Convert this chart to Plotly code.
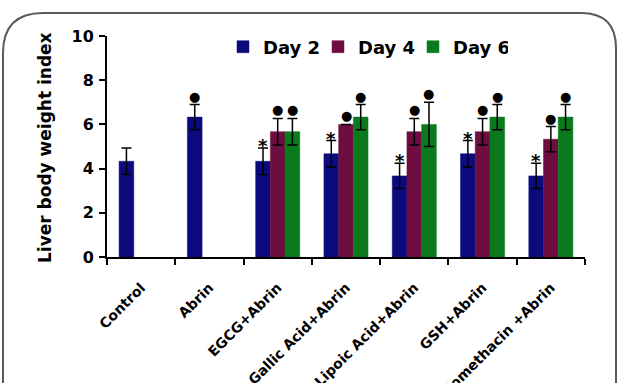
import plotly.graph_objects as go

categories = ["Control", "Abrin", "EGCG+Abrin", "Gallic Acid+Abrin",
              "Lipoic Acid+Abrin", "GSH+Abrin", "Indomethacin +Abrin"]
series_names = ["Day 2", "Day 4", "Day 6"]
day2 = [4.33, 6.33, 4.33, 4.67, 3.67, 4.67, 3.67]
day2_err = [0.6, 0.57, 0.6, 0.6, 0.57, 0.6, 0.57]
day4 = [None, None, 5.67, 6.0, 5.67, 5.67, 5.33]
day4_err = [None, None, 0.6, None, 0.6, 0.6, 0.57]
day6 = [None, None, 5.67, 6.33, 6.0, 6.33, 6.33]
day6_err = [None, None, 0.6, 0.57, 1.0, 0.57, 0.57]
day2_sig = ["", "●", "*", "*", "*", "*", "*"]
day4_sig = ["", "", "●", "●", "●", "●", "●"]
day6_sig = ["", "", "●", "●", "●", "●", "●"]
y_ticks = [0, 2, 4, 6, 8, 10]

colors = ["#0b0b7e", "#6e0d3f", "#0a7a1c"]
FONT = "DejaVu Sans"

fig = go.Figure()
all_vals = [day2, day4, day6]
all_errs = [day2_err, day4_err, day6_err]
all_sigs = [day2_sig, day4_sig, day6_sig]
for name, vals, errs, col in zip(series_names, all_vals, all_errs, colors):
    fig.add_trace(go.Bar(
        name=f"<b>{name}</b>", x=categories, y=vals,
        marker=dict(color=col, line=dict(color=col, width=0.5)),
        error_y=dict(type="data", array=errs, visible=True,
                     color="black", thickness=1.5, width=5),
    ))

L, R, T, B = 107, 32, 36, 126
W, H = 617, 383
pw, ph = W - L - R, H - T - B
cat_w = pw / len(categories)
bar_w = 14.7
shifts = [-bar_w, 0, bar_w]

annotations = []
for vals, errs, sigs, sh in zip(all_vals, all_errs, all_sigs, shifts):
    for c, v, e, s in zip(categories, vals, errs, sigs):
        if not s or v is None:
            continue
        top = v + (e or 0)
        if s == "*":
            annotations.append(dict(x=c, y=top, xref="x", yref="y", text="<b>*</b>",
                                    showarrow=False, xshift=sh, yanchor="bottom",
                                    yshift=-10, font=dict(family=FONT, size=18, color="black")))
        else:
            annotations.append(dict(x=c, y=top, xref="x", yref="y", text="●",
                                    showarrow=False, xshift=sh, yanchor="bottom",
                                    yshift=-1, font=dict(family=FONT, size=13, color="black")))

def px(x):
    return (x - L) / pw

def py(y):
    return 1 - (y - T) / ph

annotations.append(dict(x=px(45), y=py(148), xref="paper", yref="paper",
                        xanchor="center", yanchor="middle",
                        text="<b>Liver body weight index</b>", textangle=-90, showarrow=False,
                        font=dict(family=FONT, size=17, color="black")))

frame = (f"M {px(3)},{py(400)} L {px(3)},{py(53)} Q {px(3)},{py(13)} {px(43)},{py(13)} "
         f"L {px(581)},{py(13)} Q {px(616)},{py(13)} {px(616)},{py(48)} L {px(616)},{py(400)}")

fig.update_layout(
    width=W, height=H,
    margin=dict(l=L, r=R, t=T, b=B, pad=0, autoexpand=False),
    paper_bgcolor="white", plot_bgcolor="white",
    barmode="group", bargap=1 - 3 * bar_w / cat_w, bargroupgap=0,
    font=dict(family=FONT, color="black"),
    legend=dict(orientation="h", x=px(223), y=py(47), xanchor="left", yanchor="middle",
                font=dict(family=FONT, size=18, color="black"),
                entrywidth=50, entrywidthmode="pixels", bgcolor="rgba(0,0,0,0)",
                itemclick=False),
    annotations=annotations,
    shapes=[dict(type="path", path=frame, xref="paper", yref="paper",
                 line=dict(color="#5a5a5a", width=2), layer="above")],
    showlegend=True,
)
fig.update_xaxes(type="category", tickson="boundaries", ticks="outside", ticklen=6,
                 tickwidth=2, tickcolor="black", showline=True, linecolor="black", linewidth=2,
                 tickangle=-45, tickfont=dict(family=FONT, size=14, color="black"),
                 showgrid=False, ticklabelstandoff=15, automargin=False,
                 tickvals=categories, ticktext=[f"<b>{c}</b>" for c in categories])
fig.update_yaxes(range=[0, 10], tickvals=y_ticks, ticktext=[f"<b>{t}</b>" for t in y_ticks],
                 ticks="outside", ticklen=6, tickwidth=2, tickcolor="black",
                 showline=True, linecolor="black", linewidth=2, showgrid=False, zeroline=False,
                 ticklabelstandoff=2, automargin=False,
                 tickfont=dict(family=FONT, size=16, color="black"))

fig.write_html("out.html", config={"displayModeBar": False},
               post_script="document.body.style.margin='0px';document.body.style.overflow='hidden';")
